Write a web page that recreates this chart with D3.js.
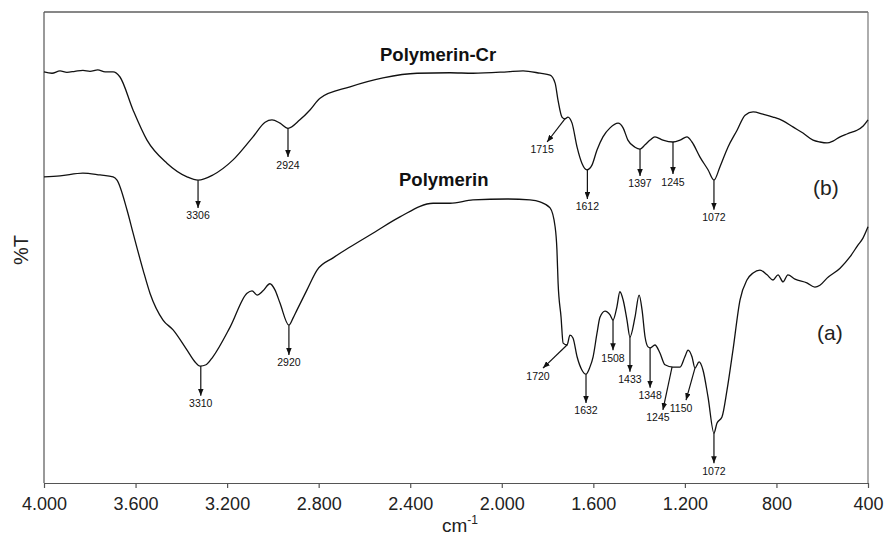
<!DOCTYPE html>
<html>
<head>
<meta charset="utf-8">
<script src="https://cdn.jsdelivr.net/npm/d3@7"></script>
<style>
  body { margin: 0; background: #fff; }
  text { font-family: "Liberation Sans", Arial, sans-serif; }
</style>
</head>
<body>
<div id="chart"></div>
<script>
// FTIR spectra, [wavenumber cm-1, %T (arbitrary 0-100 scale)]

// (b) Polymerin-Cr
const specB = [
  [4000, 87.3], [3965, 87.0], [3930, 87.5], [3900, 87.2], [3865, 87.4], [3830, 87.6],
  [3799, 87.4], [3765, 87.7], [3733, 87.3], [3698, 87.3],
  [3668, 86.2], [3611, 79.2], [3550, 72.8], [3463, 67.9], [3375, 65.0], [3327, 64.3],
  [3262, 65.4], [3174, 68.6], [3087, 73.5], [3034, 76.6], [3004, 77.1], [2969, 76.4],
  [2934, 75.3], [2882, 77.1], [2838, 79.2], [2794, 81.7], [2663, 84.1], [2519, 86.0],
  [2370, 87.0], [2226, 87.1], [2126, 87.0], [1977, 87.3], [1907, 87.5], [1833, 87.0],
  [1789, 86.6], [1767, 84.9], [1754, 81.2], [1737, 77.7], [1724, 77.3], [1711, 77.7],
  [1693, 76.4], [1671, 71.3], [1650, 67.9], [1628, 66.5], [1606, 67.5], [1584, 70.7],
  [1558, 73.5], [1527, 75.4], [1492, 76.4], [1470, 75.4], [1449, 72.8], [1418, 71.3],
  [1396, 70.9], [1374, 71.8], [1352, 72.8], [1331, 73.5], [1296, 72.8], [1252, 72.4],
  [1221, 72.8], [1191, 73.5], [1169, 72.4], [1134, 69.2], [1099, 66.5], [1073, 64.3],
  [1047, 67.1], [1012, 71.3], [972, 74.9], [937, 78.1], [902, 78.8], [859, 78.3],
  [815, 77.7], [771, 76.9], [728, 75.6], [684, 74.3], [640, 72.8], [610, 72.4],
  [579, 72.2], [553, 72.6], [522, 73.5], [492, 74.1], [470, 74.5], [448, 74.9],
  [421, 75.8], [400, 77.1]
];

// (a) Polymerin
const specA = [
  [4000, 65.0], [3930, 65.2], [3830, 65.8], [3755, 65.4], [3698, 65.0], [3681, 64.3],
  [3637, 57.9], [3611, 53.1], [3567, 45.2], [3537, 40.3], [3480, 34.6], [3436, 32.5],
  [3375, 28.2], [3340, 25.7], [3318, 24.8], [3292, 25.1], [3262, 26.8], [3187, 33.1],
  [3113, 40.3], [3091, 40.8], [3069, 39.9], [3043, 40.8], [3013, 42.3], [2991, 41.0],
  [2969, 38.2], [2930, 33.5], [2912, 35.0], [2895, 36.7], [2851, 41.0], [2807, 45.2],
  [2737, 47.8], [2663, 50.1], [2554, 53.3], [2445, 56.5], [2300, 59.4], [2226, 59.4],
  [2126, 60.1], [1977, 60.3], [1877, 60.1], [1833, 59.7], [1789, 58.4], [1767, 54.4],
  [1759, 49.5], [1754, 42.5], [1741, 35.2], [1732, 29.7], [1715, 29.3], [1702, 31.4],
  [1689, 30.8], [1671, 26.8], [1650, 24.0], [1632, 23.1], [1615, 24.6], [1601, 26.8],
  [1584, 31.8], [1571, 35.2], [1549, 36.5], [1527, 35.7], [1514, 34.6], [1497, 37.4],
  [1484, 40.6], [1470, 38.9], [1453, 34.6], [1440, 31.0], [1418, 35.2], [1400, 39.9],
  [1387, 36.7], [1374, 31.0], [1361, 28.9], [1352, 28.7], [1331, 29.3], [1309, 27.6],
  [1287, 25.1], [1252, 24.6], [1221, 24.6], [1200, 26.8], [1186, 28.2], [1169, 26.8],
  [1156, 24.4], [1138, 25.7], [1121, 24.0], [1099, 18.3], [1073, 10.6], [1060, 12.7],
  [1038, 14.0], [1016, 19.7], [990, 28.2], [959, 38.9], [929, 43.1], [902, 44.6],
  [872, 45.2], [841, 44.2], [815, 43.1], [793, 44.2], [771, 42.7], [750, 44.2],
  [719, 43.3], [667, 42.5], [632, 41.6], [610, 42.0], [579, 43.5], [522, 45.6],
  [479, 48.0], [444, 50.5], [422, 52.0], [400, 54.4]
];

// peak markers: label, wavenumber where arrow leaves the curve, arrow tip [wn, %T]
const peaksB = [
  { text: "3306", wn: 3327, tip: [3327, 58.4] },
  { text: "2924", wn: 2934, tip: [2934, 69.2] },
  { text: "1715", wn: 1724, tip: [1802, 72.4] },
  { text: "1612", wn: 1626, tip: [1626, 60.3] },
  { text: "1397", wn: 1396, tip: [1396, 65.2] },
  { text: "1245", wn: 1252, tip: [1252, 65.6] },
  { text: "1072", wn: 1073, tip: [1073, 58.0] }
];
const peaksA = [
  { text: "3310", wn: 3315, tip: [3315, 18.5] },
  { text: "2920", wn: 2930, tip: [2930, 27.2] },
  { text: "1720", wn: 1715, tip: [1820, 24.4] },
  { text: "1632", wn: 1632, tip: [1632, 17.0] },
  { text: "1508", wn: 1514, tip: [1514, 28.2] },
  { text: "1433", wn: 1440, tip: [1440, 23.6] },
  { text: "1348", wn: 1352, tip: [1352, 20.2] },
  { text: "1245", wn: 1256, tip: [1296, 15.5] },
  { text: "1150", wn: 1156, tip: [1195, 17.6] },
  { text: "1072", wn: 1073, tip: [1073, 4.2] }
];

const xTicks = [4000, 3600, 3200, 2800, 2400, 2000, 1600, 1200, 800, 400];

/* CONSTANTS */
const width = 887,
  height = 537,
  margin = { top: 12, right: 19, bottom: 54, left: 44 };

const svg = d3.select("#chart")
  .append("svg")
  .attr("width", width)
  .attr("height", height);

const xScale = d3.scaleLinear()
  .domain([4000, 400])
  .range([margin.left, width - margin.right]);

const yScale = d3.scaleLinear()
  .domain([0, 100])
  .range([height - margin.bottom, margin.top]);

// european style thousands: 4.000
const fmt = d3.formatLocale({ decimal: ",", thousands: ".", grouping: [3], currency: ["", ""] }).format(",");

// arrow head
svg.append("defs").append("marker")
  .attr("id", "head")
  .attr("viewBox", "0 0 10 8")
  .attr("refX", 10)
  .attr("refY", 4)
  .attr("markerUnits", "userSpaceOnUse")
  .attr("markerWidth", 7)
  .attr("markerHeight", 5.6)
  .attr("orient", "auto")
  .append("path")
  .attr("d", "M0,0 L10,4 L0,8 Z")
  .attr("fill", "#111");

// frame: top and right
svg.append("line")
  .attr("x1", margin.left).attr("x2", width - margin.right)
  .attr("y1", margin.top).attr("y2", margin.top)
  .attr("stroke", "#111").attr("stroke-width", 1.2);
svg.append("line")
  .attr("x1", width - margin.right).attr("x2", width - margin.right)
  .attr("y1", margin.top).attr("y2", height - margin.bottom)
  .attr("stroke", "#777").attr("stroke-width", 1.2);

// left axis line (no ticks)
svg.append("line")
  .attr("x1", margin.left).attr("x2", margin.left)
  .attr("y1", margin.top).attr("y2", height - margin.bottom)
  .attr("stroke", "#555").attr("stroke-width", 1.2);

// bottom axis
const xAxis = d3.axisBottom(xScale)
  .tickValues(xTicks)
  .tickSize(5)
  .tickSizeOuter(0)
  .tickPadding(9)
  .tickFormat(d => fmt(d));

const xAxisGroup = svg.append("g")
  .attr("transform", `translate(0, ${height - margin.bottom})`)
  .call(xAxis);
xAxisGroup.select(".domain").attr("stroke", "#555").attr("stroke-width", 1.2);
xAxisGroup.selectAll(".tick line").attr("stroke", "#555").attr("stroke-width", 1.2);
xAxisGroup.selectAll(".tick text")
  .attr("font-size", 18)
  .attr("fill", "#222")
  .attr("font-family", "Liberation Sans, Arial, sans-serif");

// axis titles
const xTitle = svg.append("text")
  .attr("x", 442)
  .attr("y", 532)
  .attr("font-size", 19)
  .attr("fill", "#222");
xTitle.append("tspan").text("cm");
xTitle.append("tspan").attr("font-size", 12).attr("dy", -8).text("-1");

svg.append("text")
  .attr("transform", "translate(28, 250) rotate(-90)")
  .attr("text-anchor", "middle")
  .attr("font-size", 20)
  .attr("fill", "#222")
  .text("%T");

// spectra
const lineGen = d3.line()
  .x(d => xScale(d[0]))
  .y(d => yScale(d[1]))
  .curve(d3.curveMonotoneX);

svg.selectAll("path.spectrum")
  .data([specB, specA])
  .join("path")
  .attr("class", "spectrum")
  .attr("d", d => lineGen(d))
  .attr("fill", "none")
  .attr("stroke", "#111")
  .attr("stroke-width", 1.3)
  .attr("stroke-linejoin", "round");

// %T of a spectrum at a given wavenumber
function valueAt(spec, wn) {
  for (let i = 0; i < spec.length - 1; i++) {
    const [w0, v0] = spec[i], [w1, v1] = spec[i + 1];
    if (wn <= w0 && wn >= w1) {
      const t = (w0 - wn) / (w0 - w1);
      return v0 + t * (v1 - v0);
    }
  }
  return spec[spec.length - 1][1];
}

function drawPeaks(spec, peaks, cls) {
  const g = svg.selectAll("g." + cls)
    .data(peaks)
    .join("g")
    .attr("class", cls);

  g.append("line")
    .attr("x1", d => xScale(d.wn))
    .attr("y1", d => yScale(valueAt(spec, d.wn)))
    .attr("x2", d => xScale(d.tip[0]))
    .attr("y2", d => yScale(d.tip[1]))
    .attr("stroke", "#111")
    .attr("stroke-width", 1.2)
    .attr("marker-end", "url(#head)");

  g.append("text")
    .attr("x", d => xScale(d.tip[0]) - (d.tip[0] !== d.wn ? 5 : 0))
    .attr("y", d => yScale(d.tip[1]) + 11.5)
    .attr("text-anchor", "middle")
    .attr("font-size", 10.5)
    .attr("fill", "#111")
    .text(d => d.text);
}

drawPeaks(specB, peaksB, "peakB");
drawPeaks(specA, peaksA, "peakA");

// series names
svg.append("text")
  .attr("x", 380).attr("y", 61)
  .attr("font-size", 18.5).attr("font-weight", "bold").attr("fill", "#111")
  .text("Polymerin-Cr");
svg.append("text")
  .attr("x", 399).attr("y", 186)
  .attr("font-size", 18.5).attr("font-weight", "bold").attr("fill", "#111")
  .text("Polymerin");

svg.append("text")
  .attr("x", 813).attr("y", 195)
  .attr("font-size", 21).attr("fill", "#222")
  .text("(b)");
svg.append("text")
  .attr("x", 817).attr("y", 340)
  .attr("font-size", 21).attr("fill", "#222")
  .text("(a)");
</script>
</body>
</html>
